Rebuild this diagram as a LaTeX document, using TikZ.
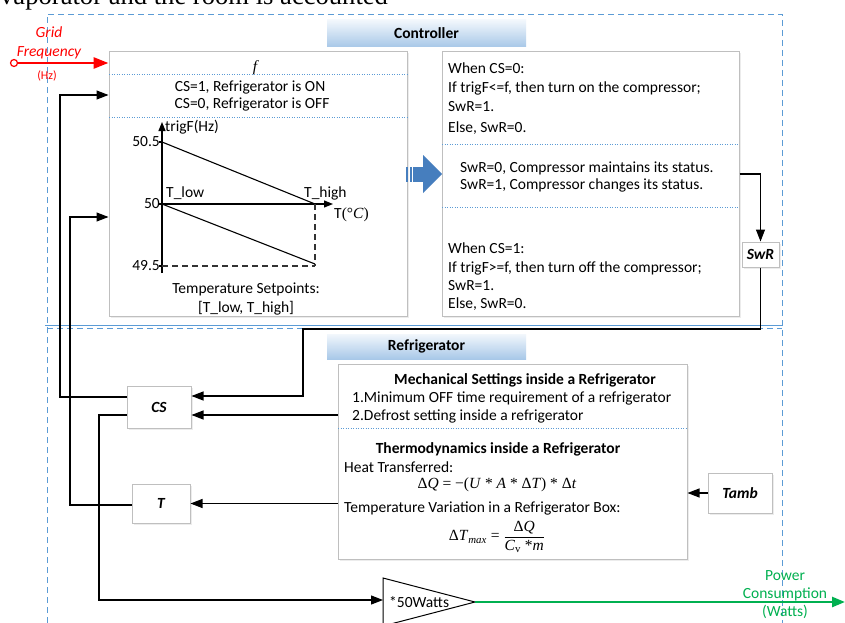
\documentclass[tikz,border=0pt]{standalone}
\usepackage{fontspec}
\setmainfont{Carlito}
\newfontfamily\tf{Liberation Serif}
\usetikzlibrary{arrows.meta,shadows,calc}
\definecolor{dblue}{RGB}{91,155,213}
\definecolor{bgray}{RGB}{191,191,191}
\definecolor{gred}{RGB}{255,0,0}
\definecolor{pgreen}{RGB}{0,176,80}
\definecolor{hdtop}{RGB}{242,247,252}
\definecolor{hdbot}{RGB}{168,200,232}
\definecolor{sblue}{RGB}{70,126,190}
\begin{document}
\begin{tikzpicture}[x=1pt,y=-1pt,
  every node/.style={font=\fontsize{15.5}{19}\selectfont, inner sep=0pt},
  panel/.style={draw=bgray, line width=1pt, fill=white, drop shadow={opacity=0.15,shadow xshift=1.5pt,shadow yshift=-1.5pt}},
  header/.style={top color=hdtop, bottom color=hdbot, font=\fontsize{15.5}{19}\selectfont\bfseries},
  lbl/.style={panel, font=\fontsize{15.5}{19}\selectfont\bfseries\itshape},
  txt/.style={anchor=base west},
  ctxt/.style={anchor=base},
  sep/.style={draw=dblue, line width=0.9pt, dash pattern=on 1pt off 1.5pt},
  outer/.style={draw=dblue, line width=0.9pt, dash pattern=on 6pt off 4pt},
  arr/.style={draw=black, line width=1.1pt, -{Triangle[length=12pt,width=9pt]}},
  axis/.style={draw=black, line width=1.2pt, -{Triangle[length=9pt,width=7pt]}},
  gline/.style={draw=black, line width=1.1pt},
  gdash/.style={draw=black!80, line width=1.2pt, dash pattern=on 6pt off 4pt},
  rarr/.style={draw=gred, line width=2.7pt, -{Triangle[length=15pt,width=11pt]}},
  garr/.style={draw=pgreen, line width=2.5pt, -{Triangle[length=13pt,width=10pt]}}
]
\useasboundingbox (0,0) rectangle (845,623);
\fill[white] (0,0) rectangle (845,623);

% caption fragment at top
\node[anchor=base west, font=\tf\fontsize{26.6}{30}\selectfont] (cap) at (0,5) {vaporator and the room is accounted};

% outer dashed regions
\draw[outer] (47,623) -- (47,14) -- (782,14) -- (782,623);
\draw[outer] (47,328) -- (782,328);
\draw[draw=dblue, line width=0.8pt] (45,325) -- (782,325);

% headers
\node[header, minimum width=199, minimum height=27] (ch) at (426.5,33.5) {Controller};
\node[header, minimum width=199, minimum height=25] (rh) at (426.5,346.5) {Refrigerator};

% panels
\node[panel, minimum width=298, minimum height=264] (lb) at (258,184) {};
\node[panel, minimum width=297, minimum height=264] (rb) at (590.5,184) {};
\node[panel, minimum width=349, minimum height=195] (rfb) at (512.5,461.5) {};

% left controller panel content
\node[ctxt] (fl) at (255,72) {\tf\itshape f};
\draw[sep] (109,74) -- (407,74);
\node[ctxt] (cs1) at (250,92) {CS=1, Refrigerator is ON};
\node[ctxt] (cs0) at (252,109) {CS=0, Refrigerator is OFF};
\draw[sep] (109,117) -- (407,117);

% graph
\coordinate (o) at (162,204);
\draw[axis] (162,273) -- (162,122);
\draw[axis] (o) -- (333,204);
\draw[gline] (162,142) -- (315,204);
\draw[gline] (o) -- (315,264);
\draw[gdash] (315,204) -- (315,266);
\draw[gdash] (162,266) -- (315,266);
\draw[gline] (159,142) -- (162,142);
\draw[gline] (159,204) -- (162,204);
\draw[gline] (159,266) -- (162,266);
\node[anchor=west] (yl) at (165,127) {trigF(Hz)};
\node[anchor=east] (v1) at (160,142) {50.5};
\node[anchor=east] (v2) at (160,204) {50};
\node[anchor=east] (v3) at (160,266) {49.5};
\node[txt] (tl) at (166,197) {T\_low};
\node[txt] (th) at (304,197) {T\_high};
\node[txt] (tc) at (334,218) {T{\tf(°\textit{C})}};
\node[ctxt] (ts1) at (246,293) {Temperature Setpoints:};
\node[ctxt] (ts2) at (246,312) {[T\_low, T\_high]};

% striped block arrow
\fill[sblue] (406,167) rectangle (407.5,182);
\fill[sblue] (409.5,167) rectangle (411.5,182);
\fill[sblue] (413,167) rectangle (424,182);
\fill[sblue] (423,155) -- (442,174) -- (423,193) -- cycle;

% right controller panel content
\node[txt] (r1) at (448,74) {When CS=0:};
\node[txt] (r2) at (448,93) {If trigF<=f, then turn on the compressor;};
\node[txt] (r3) at (448,112) {SwR=1.};
\node[txt] (r4) at (448,132) {Else, SwR=0.};
\draw[sep] (442,144) -- (739,144);
\node[txt] (r5) at (460,172) {SwR=0, Compressor maintains its status.};
\node[txt] (r6) at (460,189) {SwR=1, Compressor changes its status.};
\draw[sep] (442,207) -- (739,207);
\node[txt] (r7) at (448,253) {When CS=1:};
\node[txt] (r8) at (448,272) {If trigF>=f, then turn off the compressor;};
\node[txt] (r9) at (448,290) {SwR=1.};
\node[txt] (r10) at (448,308) {Else, SwR=0.};

% refrigerator panel content
\node[ctxt, font=\fontsize{15.5}{19}\selectfont\bfseries] (m0) at (525,384) {Mechanical Settings inside a Refrigerator};
\node[txt] (m1) at (352,402) {1.Minimum OFF time requirement of a refrigerator};
\node[txt] (m2) at (352,420) {2.Defrost setting inside a refrigerator};
\draw[sep] (338,428) -- (687,428);
\node[ctxt, font=\fontsize{15.5}{19}\selectfont\bfseries] (h0) at (498,453) {Thermodynamics inside a Refrigerator};
\node[txt] (h1) at (344,472) {Heat Transferred:};
\node[ctxt] (dq) at (497,488) {\tf Δ\textit{Q} = −(\textit{U} * \textit{A} * Δ\textit{T}) * Δ\textit{t}};
\node[txt] (h2) at (344,512) {Temperature Variation in a Refrigerator Box:};
\node (dt) at (497,537) {\tf Δ\textit{T}\textsubscript{\textit{max}} = $\displaystyle\frac{\hbox{\tf Δ\textit{Q}}}{\hbox{\tf\textit{C}\textsubscript{v} *\textit{m}}}$};

% small label boxes
\node[lbl, minimum width=64, minimum height=42] (cs) at (159,407) {CS};
\node[lbl, minimum width=58, minimum height=39] (tb) at (161,503.5) {T};
\node[lbl, minimum width=64, minimum height=40] (tamb) at (740,493) {Tamb};
\node[lbl, minimum width=37, minimum height=25] (swr) at (760.5,254.5) {SwR};

% amplifier triangle
\draw[line width=1pt] (383,578) -- (475,602) -- (383,626) -- cycle;
\coordinate (ampin) at (383,600);
\coordinate (ampout) at (475,602);
\node[txt] (amp) at (389,607) {*50Watts};

% grid frequency input
\node[ctxt, text=gred, font=\fontsize{15.5}{19}\selectfont\itshape] (g1) at (49,38) {Grid};
\node[ctxt, text=gred, font=\fontsize{15.5}{19}\selectfont\itshape] (g2) at (49,57) {Frequency};
\node[ctxt, text=gred, font=\fontsize{12}{14}\selectfont] (g3) at (47,80) {(Hz)};
\node[circle, draw=gred, fill=white, line width=1.2pt, minimum size=7pt] (gf) at (14,63) {};
\draw[rarr] (gf.east) -- (gf.east -| lb.west);

% power output
\coordinate (pc) at (845,602);
\draw[garr] (ampout) -- (pc);
\node[ctxt, text=pgreen] (p1) at (785,580) {Power};
\node[ctxt, text=pgreen] (p2) at (785,598) {Consumption};
\node[ctxt, text=pgreen] (p3) at (785,616) {(Watts)};

% connectors
\draw[arr] ([yshift=10pt]cs.west) -- (60,397) |- ([yshift=89pt]lb.west);
\draw[arr] ([yshift=-1.5pt]tb.west) -- (70,505) |- ([yshift=-33pt]lb.west);
\draw[arr] ([yshift=-8pt]cs.west) -- (99,415) |- (ampin);
\draw[arr] ([yshift=10pt]rb.east) -| (swr.north);
\draw[arr] (swr.south) |- (303,329) |- ([yshift=11pt]cs.east);
\coordinate (csr) at ([yshift=-8pt]cs.east);
\draw[arr] (rfb.west |- csr) -- (csr);
\draw[arr] (rfb.west |- tb.east) -- (tb.east);
\draw[arr] (tamb.west) -- (tamb.west -| rfb.east);
\end{tikzpicture}
\end{document}
